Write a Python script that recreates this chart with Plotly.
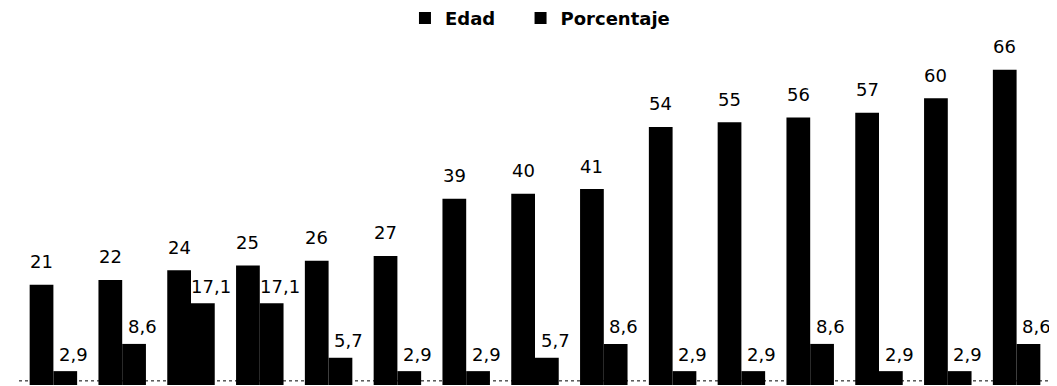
import plotly.graph_objects as go

categories = ["G1", "G2", "G3", "G4", "G5", "G6", "G7", "G8", "G9", "G10", "G11", "G12", "G13", "G14", "G15"]
edad = [21, 22, 24, 25, 26, 27, 39, 40, 41, 54, 55, 56, 57, 60, 66]
porcentaje = [2.9, 8.6, 17.1, 17.1, 5.7, 2.9, 2.9, 5.7, 8.6, 2.9, 2.9, 8.6, 2.9, 2.9, 8.6]
edad_labels = ["21", "22", "24", "25", "26", "27", "39", "40", "41", "54", "55", "56", "57", "60", "66"]
porc_labels = ["2,9", "8,6", "17,1", "17,1", "5,7", "2,9", "2,9", "5,7", "8,6", "2,9", "2,9", "8,6", "2,9", "2,9", "8,6"]

fig = go.Figure()
fig.add_trace(go.Bar(name="Edad", x=categories, y=edad, legend="legend",
                     marker=dict(color="#000000", line=dict(width=0))))
fig.add_trace(go.Bar(name="Porcentaje", x=categories, y=porcentaje, legend="legend2",
                     marker=dict(color="#000000", line=dict(width=0))))

lab_font = dict(family="DejaVu Sans", size=18, color="#000000")
for c, v, t in zip(categories, edad, edad_labels):
    fig.add_annotation(x=c, y=v, text=t, showarrow=False, xref="x", yref="y",
                       xshift=-12, yshift=23, yanchor="middle", font=lab_font)
for c, v, t in zip(categories, porcentaje, porc_labels):
    fig.add_annotation(x=c, y=v, text=t, showarrow=False, xref="x", yref="y",
                       xshift=20, yshift=17, yanchor="middle", font=lab_font)

fig.add_shape(type="line", xref="paper", yref="paper", x0=0, x1=1, y0=0.012, y1=0.012,
              layer="below", line=dict(color="#000000", width=1, dash="dot"))

leg_font = dict(family="DejaVu Sans", size=18, color="#000000", weight="bold")
fig.update_layout(
    width=1057, height=386,
    margin=dict(l=11, r=14, t=32, b=9, autoexpand=False),
    paper_bgcolor="#ffffff", plot_bgcolor="#ffffff",
    barmode="group", bargap=0.31, bargroupgap=0,
    showlegend=True,
    legend=dict(orientation="h", x=0.374, xanchor="left", y=1.063, yanchor="middle",
                font=leg_font, itemwidth=30, bgcolor="rgba(0,0,0,0)"),
    legend2=dict(orientation="h", x=0.486, xanchor="left", y=1.063, yanchor="middle",
                 font=leg_font, itemwidth=30, bgcolor="rgba(0,0,0,0)"),
    xaxis=dict(visible=False, type="category", range=[-0.5, 14.5]),
    yaxis=dict(visible=False, range=[0, 72.2]),
)

fig.write_html("out.html")
